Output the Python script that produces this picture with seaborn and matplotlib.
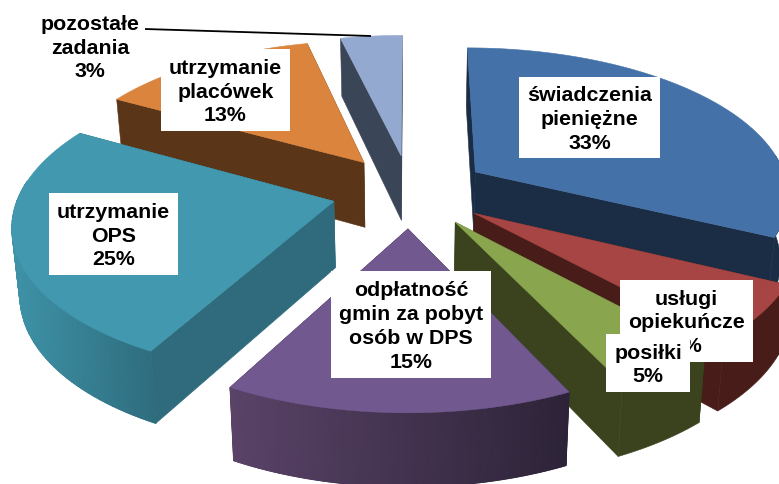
import numpy as np
import matplotlib
matplotlib.use("Agg")
import matplotlib.pyplot as plt
from matplotlib.patches import Rectangle
import seaborn as sns

# Slice names and printed labels, clockwise from 12 o'clock
categories = ["świadczenia\npieniężne", "usługi\nopiekuńcze", "posiłki", "odpłatność\ngmin za pobyt\nosób w DPS",
              "utrzymanie\nOPS", "utrzymanie\nplacówek", "pozostałe\nzadania"]
printed_pct = [33, 6, 5, 15, 25, 13, 3]
# Slice sweep as measured on the picture (% of the full circle)
shares = [32.2, 6.0, 4.7, 15.0, 25.2, 13.2, 3.7]

top_colors = ["#4472A8", "#A64543", "#89A64E", "#71588F", "#4198AF", "#DB843D", "#93A9CF"]
wall_light = ["#1B2D45", "#481C18", "#3A431E", "#5A4368", "#3F93A8", "#5A3518", "#3A4557"]
wall_dark = ["#1B2D45", "#481C18", "#3A431E", "#2D2338", "#2E6D7E", "#5A3518", "#3A4557"]
side_colors = ["#1B2D45", "#481C18", "#3A431E", "#2D2338", "#2F6B7C", "#5A3518", "#3A4557"]

label_boxes = [(519, 77, 660, 158), (620, 280, 753, 362), (606, 334, 690, 392), (331, 271, 491, 378),
               (49, 193, 178, 275), (161, 49, 290, 131), None]
paint_order = [6, 5, 0, 4, 1, 2, 3]

CX, CY, RX, RY, K, EXPLODE = 410, 191, 314, 146.4, 0.14, 0.25
DEPTH, DEPTH_SLOPE, BOTTOM_SHRINK = 66, 6.5, 0.98
FONT_SIZE, LINE_SPACING, TEXT_DROP = 15.4, 1.33, 2


def project(X, Y, bottom=False):
    w = 1 + K * Y
    x = RX * X / w
    y = CY - RY * Y / w
    if bottom:
        x = x * BOTTOM_SHRINK
        y = y + DEPTH - DEPTH_SLOPE * Y
    return CX + x, y


sns.set_theme(style="white")
plt.rcParams["font.family"] = ["Liberation Sans", "DejaVu Sans"]
fig = plt.figure(figsize=(7.79, 4.84), dpi=100, facecolor="white")
ax = fig.add_axes([0, 0, 1, 1])
ax.axis("off")

bounds = np.radians(np.concatenate([[0], np.cumsum(shares) / np.sum(shares) * 360]))
top_palette = sns.color_palette(top_colors)


def quad(xs, ys, color, z, lw=0.4):
    ax.fill(xs, ys, facecolor=color, edgecolor=color, linewidth=lw, zorder=z)


z = 1
for i in paint_order:
    t0, t1 = bounds[i], bounds[i + 1]
    mid = (t0 + t1) / 2
    ax0, ay0 = EXPLODE * np.sin(mid), EXPLODE * np.cos(mid)
    th = np.linspace(t0, t1, 61)
    oX, oY = ax0 + np.sin(th), ay0 + np.cos(th)

    # radial walls
    for t in (t0, t1):
        eX, eY = np.array([ax0, ax0 + np.sin(t)]), np.array([ay0, ay0 + np.cos(t)])
        x1, y1 = project(eX, eY)
        x2, y2 = project(eX, eY, bottom=True)
        quad([x1[0], x1[1], x2[1], x2[0]], [y1[0], y1[1], y2[1], y2[0]], side_colors[i], z)
        z += 1

    # outer wall: solid underlay, smooth left-to-right shading where the slice has any
    x1, y1 = project(oX, oY)
    x2, y2 = project(oX, oY, bottom=True)
    front = np.cos(th) <= 0.15
    if front.sum() > 1:
        cmap = sns.blend_palette([wall_light[i], wall_dark[i]], as_cmap=True)
        quad(np.r_[x1[front], x2[front][::-1]], np.r_[y1[front], y2[front][::-1]], cmap(0.5), z)
        z += 1
        if wall_light[i] != wall_dark[i]:
            mx = np.vstack([x1[front], x2[front]])
            my = np.vstack([y1[front], y2[front]])
            shade = (mx - mx.min()) / (mx.max() - mx.min())
            ax.pcolormesh(mx, my, shade, shading="gouraud", cmap=cmap, vmin=0, vmax=1, zorder=z)
            z += 1

    # top face
    ox, oy = project(oX, oY)
    px, py = project(np.array([ax0]), np.array([ay0]))
    quad(np.r_[px, ox], np.r_[py, oy], top_palette[i], z)
    z += 1

# Leader line of the outside label
ax.plot([145, 371], [29, 36], color="black", lw=1.3, zorder=z, solid_capstyle="butt")
z += 1

for i in range(len(categories)):
    text = f"{categories[i]}\n{printed_pct[i]}%"
    box = label_boxes[i]
    if box is None:
        ax.text(90, 48, text, ha="center", va="center", fontsize=FONT_SIZE, fontweight="bold",
                color="black", linespacing=LINE_SPACING, zorder=z + 2 * i)
        continue
    x0, y0, x1, y1 = box
    ax.add_patch(Rectangle((x0, y0), x1 - x0, y1 - y0, facecolor="white", edgecolor="none", zorder=z + 2 * i))
    ax.text((x0 + x1) / 2, (y0 + y1) / 2 + TEXT_DROP, text, ha="center", va="center", fontsize=FONT_SIZE,
            fontweight="bold", color="black", linespacing=LINE_SPACING, zorder=z + 2 * i + 1)

ax.set_xlim(0, 779)
ax.set_ylim(484, 0)
fig.savefig("out.png", dpi=100, facecolor="white")
